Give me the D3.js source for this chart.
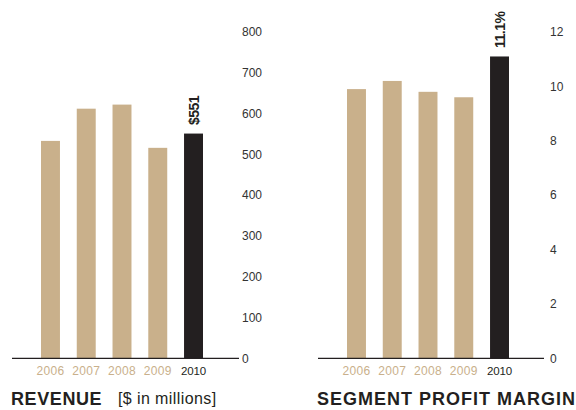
<!DOCTYPE html>
<html>
<head>
<meta charset="utf-8">
<script src="https://cdn.jsdelivr.net/npm/d3@7"></script>
<style>
  html, body { margin: 0; padding: 0; background: #fff; }
  svg { display: block; }
  text { font-family: "Liberation Sans", Arial, sans-serif; }
</style>
</head>
<body>
<script>
// Annual figures, 2006–2010
const years = ["2006", "2007", "2008", "2009", "2010"];
const revenue = [533, 612, 622, 516, 551];          // $ in millions
const profitMargin = [9.9, 10.2, 9.8, 9.6, 11.1];   // segment profit margin, %
const revenueTicks = [0, 100, 200, 300, 400, 500, 600, 700, 800];
const marginTicks = [0, 2, 4, 6, 8, 10, 12];
const revenueLabel = "$551";
const marginLabel = "11.1%";

const W = 576, H = 410;
const TAN = "#c9b08b", DARK = "#231f20", AXIS_TEXT = "#333";

const svg = d3.select("body").append("svg")
  .attr("width", W).attr("height", H);

function panel(opts) {
  const g = svg.append("g");
  const y = d3.scaleLinear().domain(opts.domain).range([358.3, 32]);
  const x = d3.scaleBand().domain(years)
    .range(opts.xRange).paddingInner(0.47).paddingOuter(0.235);
  const last = years[years.length - 1];

  // bars
  g.selectAll("rect.bar").data(years).join("rect")
    .attr("class", "bar")
    .attr("x", d => x(d))
    .attr("width", x.bandwidth())
    .attr("y", (d, i) => y(opts.values[i]))
    .attr("height", (d, i) => y(0) - y(opts.values[i]))
    .attr("fill", d => d === last ? DARK : TAN);

  // baseline
  g.append("line")
    .attr("x1", opts.lineX[0]).attr("x2", opts.lineX[1])
    .attr("y1", y(0)).attr("y2", y(0))
    .attr("stroke", DARK).attr("stroke-width", 1.3);

  // value axis on the right, labels only
  const axis = d3.axisRight(y).tickValues(opts.ticks).tickSize(0).tickPadding(0);
  const ag = g.append("g").attr("transform", `translate(${opts.tickX},0)`).call(axis);
  ag.select(".domain").remove();
  ag.selectAll("text")
    .attr("fill", AXIS_TEXT)
    .style("font-size", "12px")
    .style("font-family", "'Liberation Sans', Arial, sans-serif");

  // year labels
  g.selectAll("text.year").data(years).join("text")
    .attr("class", "year")
    .attr("x", d => x(d) + x.bandwidth() / 2)
    .attr("y", 374.5)
    .attr("text-anchor", "middle")
    .style("font-size", d => d === last ? "11.5px" : "12px")
    .style("letter-spacing", d => d === last ? "-0.2px" : "0.3px")
    .attr("fill", d => d === last ? DARK : TAN)
    .text(d => d);

  // value callout on the latest bar
  const lx = x(last) + x.bandwidth() / 2;
  const ly = y(opts.values[opts.values.length - 1]) - 8.5;
  g.append("text")
    .attr("transform", `translate(${lx + 5},${ly}) rotate(-90)`)
    .attr("text-anchor", "start")
    .style("font-size", "14px")
    .style("font-weight", "bold")
    .style("letter-spacing", "-0.5px")
    .attr("fill", DARK)
    .text(opts.callout);

  return g;
}

panel({
  domain: [0, 800], values: revenue, ticks: revenueTicks,
  xRange: [32.6, 211.4], lineX: [12, 239], tickX: 242, callout: revenueLabel
});

panel({
  domain: [0, 12], values: profitMargin, ticks: marginTicks,
  xRange: [338.6, 517.4], lineX: [318, 544], tickX: 550, callout: marginLabel
});

// panel titles
svg.append("text")
  .attr("x", 11).attr("y", 405)
  .style("font-size", "18px").style("font-weight", "bold")
  .style("letter-spacing", "0.6px")
  .attr("fill", DARK)
  .text("REVENUE");

svg.append("text")
  .attr("x", 118).attr("y", 404)
  .style("font-size", "16px")
  .style("letter-spacing", "0.4px")
  .attr("fill", DARK)
  .text("[$ in millions]");

svg.append("text")
  .attr("x", 317).attr("y", 405)
  .style("font-size", "18px").style("font-weight", "bold")
  .style("letter-spacing", "1px")
  .attr("fill", DARK)
  .text("SEGMENT PROFIT MARGIN");
</script>
</body>
</html>
